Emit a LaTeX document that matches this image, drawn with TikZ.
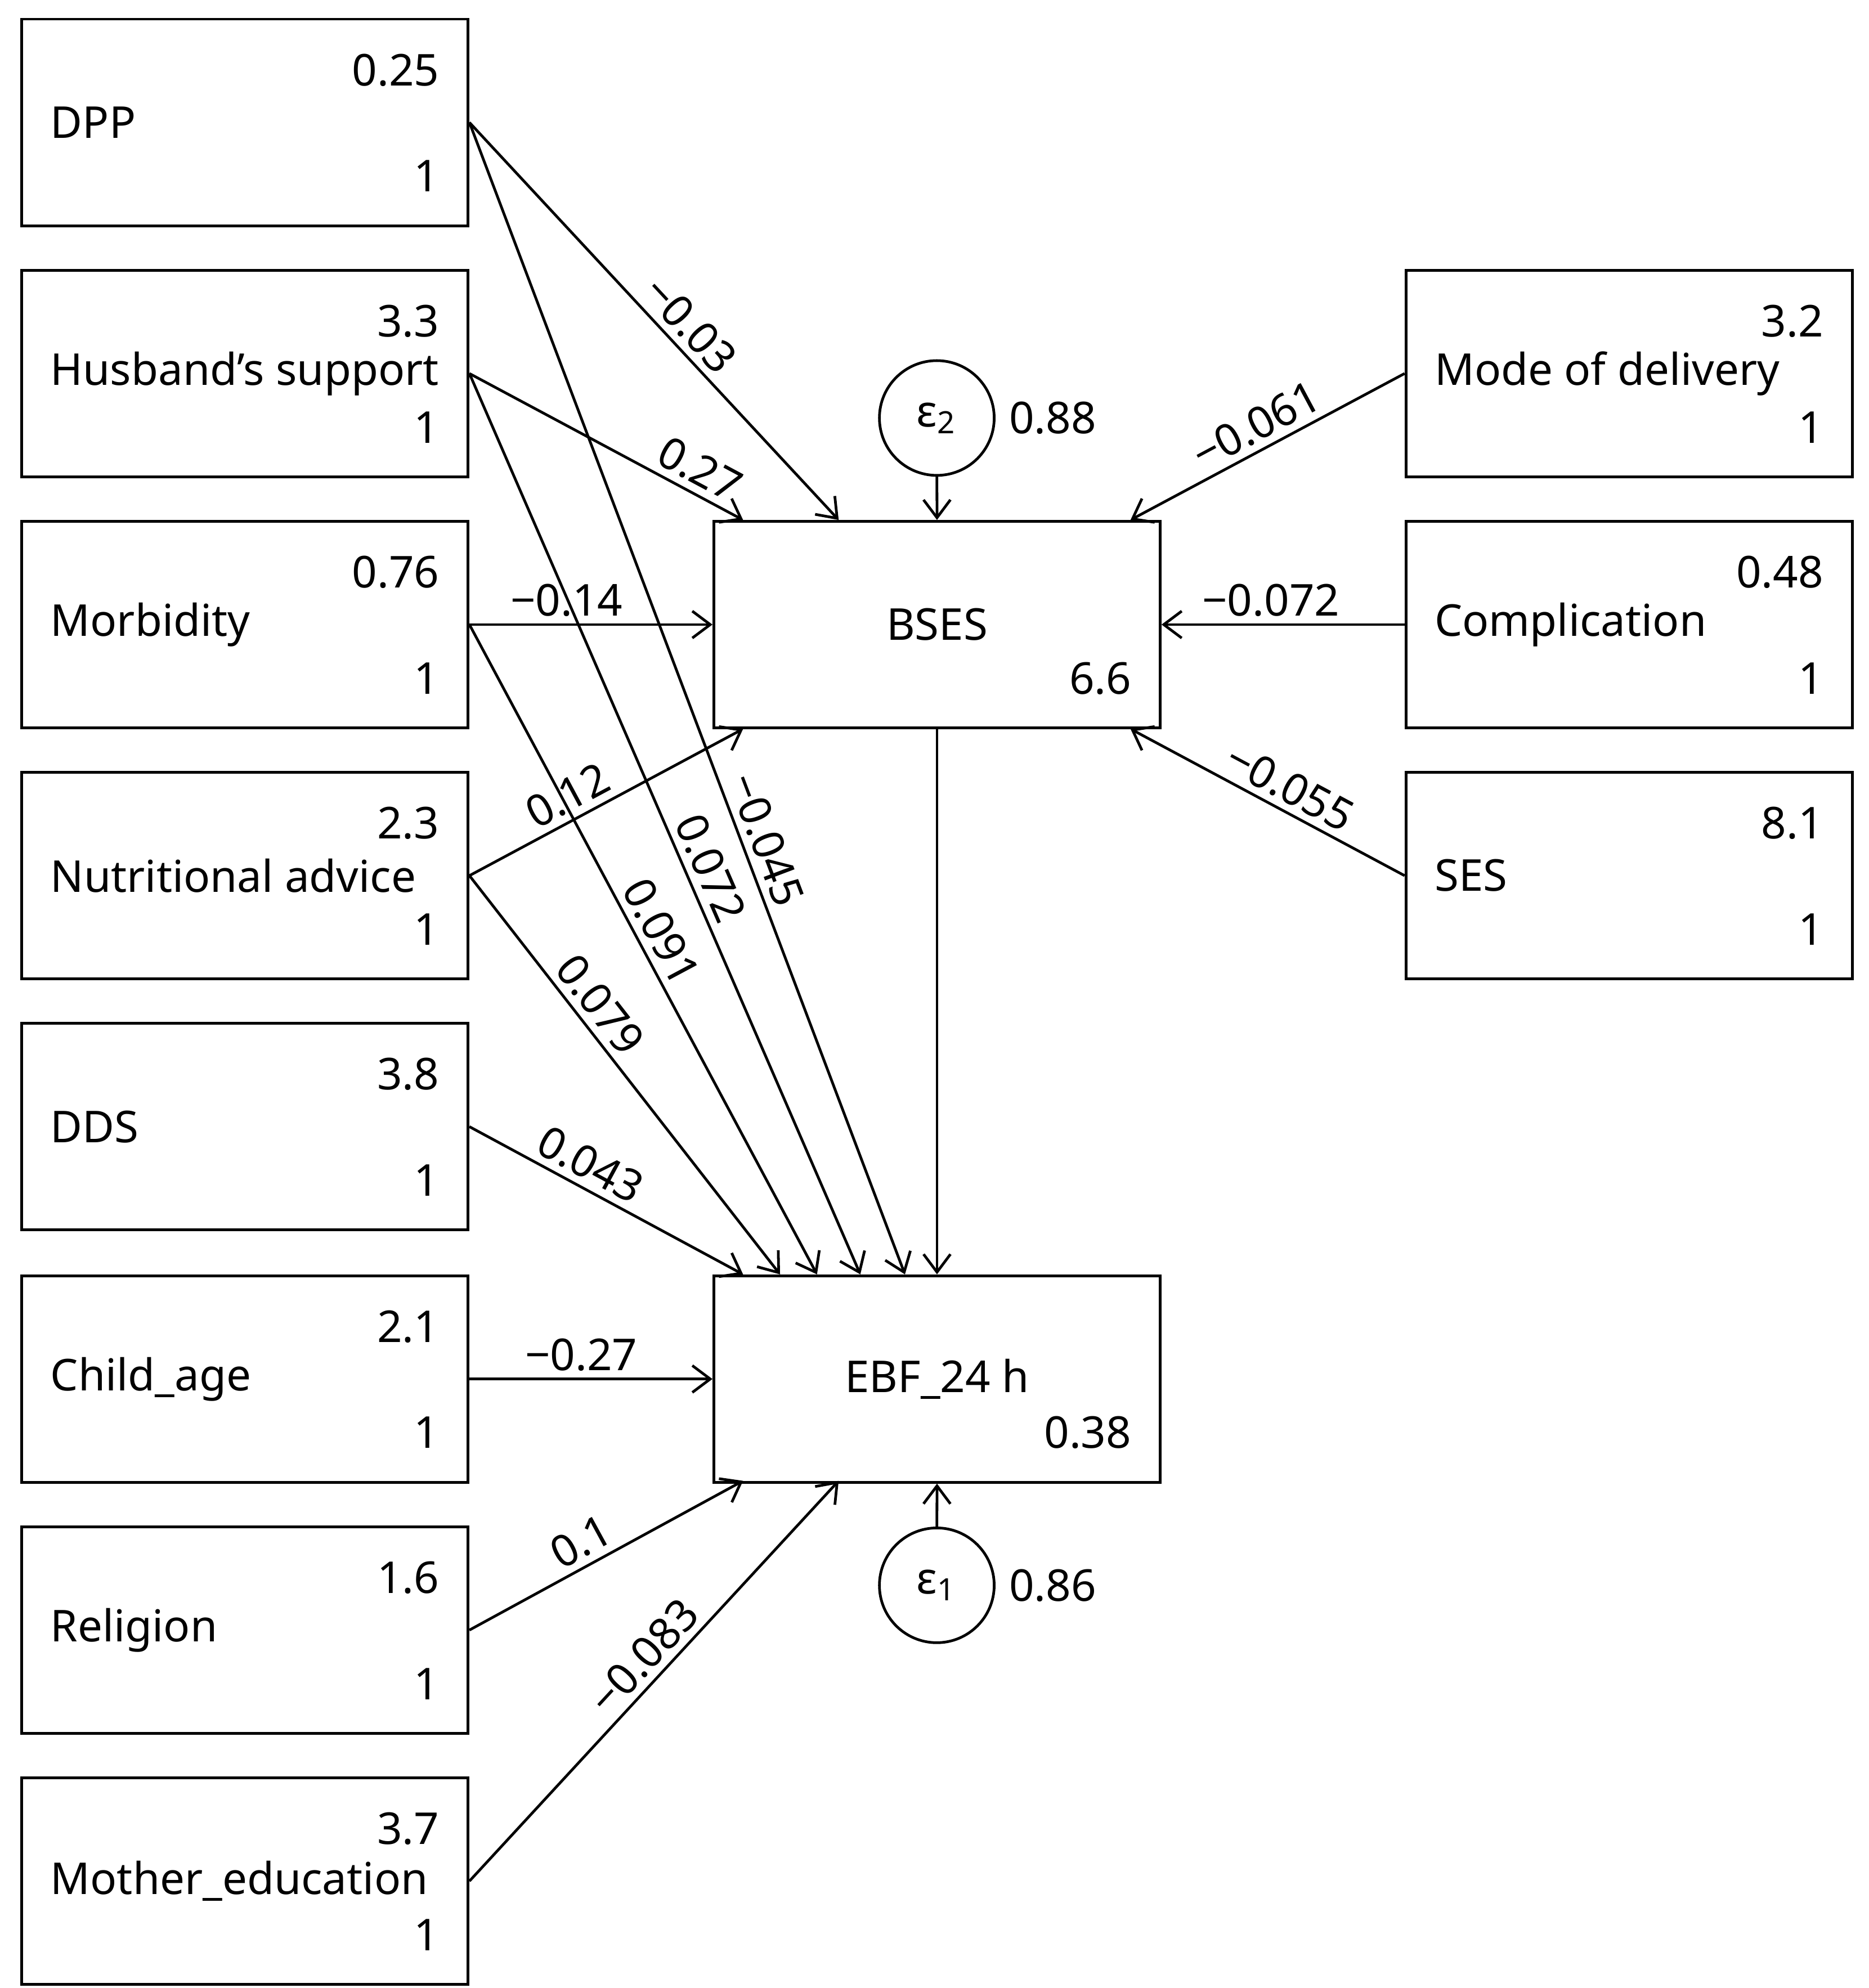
\documentclass[tikz,border=0pt]{standalone}
\usepackage{fontspec}
\setmainfont{Noto Sans}
\usetikzlibrary{arrows.meta}
\tikzset{
  box/.style={draw, line width=0.6pt, minimum width=3.50cm, minimum height=1.62cm, inner sep=0pt},
  txt/.style={inner sep=0pt},
  path/.style={line width=0.6pt, -{Straight Barb[length=4pt,width=6pt]}},
  coef/.style={sloped, above, inner sep=1.5pt},
  err/.style={draw, circle, line width=0.6pt, minimum size=0.90cm, inner sep=0pt}
}
% \mkbox{name}{left x}{top y}{label}{top number}
\newcommand{\mkbox}[5]{%
  \node[box, anchor=north west] (#1) at (#2,#3) {};
  \node[txt, anchor=west] (#1-t) at ([shift={(23,0)}]#1.west) {#4};
  \node[txt, anchor=east] (#1-m) at ([shift={(-23,41)}]#1.north east) {#5};
  \node[txt, anchor=east] (#1-o) at ([shift={(-23,-40)}]#1.south east) {1};
}
\begin{document}
\begin{tikzpicture}[x=0.01cm, y=-0.01cm, font=\fontsize{9.8}{11}\selectfont]
\useasboundingbox (0,0) rectangle (1466,1560);
% left column
\mkbox{dpp}{16}{14}{DPP}{0.25}
\mkbox{hus}{16}{211}{Husband’s support}{3.3}
\mkbox{mor}{16}{408}{Morbidity}{0.76}
\mkbox{nut}{16}{605}{Nutritional advice}{2.3}
\mkbox{dds}{16}{802}{DDS}{3.8}
\mkbox{chi}{16}{1000}{Child\_age}{2.1}
\mkbox{rel}{16}{1197}{Religion}{1.6}
\mkbox{mot}{16}{1394}{Mother\_education}{3.7}
% right column
\mkbox{mod}{1102}{211}{Mode of delivery}{3.2}
\mkbox{com}{1102}{408}{Complication}{0.48}
\mkbox{ses}{1102}{605}{SES}{8.1}
% endogenous
\node[box, anchor=north west] (bses) at (559,408) {};
\node[txt] (bses-t) at (bses.center) {BSES};
\node[txt, anchor=east] (bses-v) at ([shift={(-23,-40)}]bses.south east) {6.6};
\node[box, anchor=north west] (ebf) at (559,1000) {};
\node[txt] (ebf-t) at (ebf.center) {EBF\_24 h};
\node[txt, anchor=east] (ebf-v) at ([shift={(-23,-40)}]ebf.south east) {0.38};
% errors
\node[err] (e2) at (735,328) {ε\textsubscript{2}};
\node[txt, anchor=west] (e2v) at ([shift={(10,0)}]e2.east) {0.88};
\node[err] (e1) at (735,1244) {ε\textsubscript{1}};
\node[txt, anchor=west] (e1v) at ([shift={(10,0)}]e1.east) {0.86};
\coordinate (bt1) at (658,408);
\coordinate (bt2) at (583,408);
\coordinate (bb1) at (583,572);
\coordinate (bt3) at (887,408);
\coordinate (bb3) at (887,572);
\coordinate (et1) at (710,1000);
\coordinate (et2) at (675,1000);
\coordinate (et3) at (641,1000);
\coordinate (et4) at (612,1000);
\coordinate (et5) at (583,1000);
\coordinate (eb1) at (583,1162);
\coordinate (eb2) at (658,1162);
% paths
\draw[path] (dpp.east) -- node[coef, pos=.55] {−0.03} (bt1);
\draw[path] (dpp.east) -- node[coef, pos=.63] {−0.045} (et1);
\draw[path] (hus.east) -- node[coef, pos=.8] {0.27} (bt2);
\draw[path] (hus.east) -- node[coef, pos=.56] {0.072} (et2);
\draw[path] (mor.east) -- node[coef, pos=.4] {−0.14} (bses.west);
\draw[path] (mor.east) -- node[coef, pos=.49] {0.091} (et3);
\draw[path] (nut.east) -- node[coef, pos=.4] {0.12} (bb1);
\draw[path] (nut.east) -- node[coef, pos=.36] {0.079} (et4);
\draw[path] (dds.east) -- node[coef, pos=.4] {0.043} (et5);
\draw[path] (chi.east) -- node[coef, pos=.46] {−0.27} (ebf.west);
\draw[path] (rel.east) -- node[coef, pos=.45] {0.1} (eb1);
\draw[path] (mot.east) -- node[coef, pos=.52] {−0.083} (eb2);
\draw[path] (mod.west) -- node[coef, pos=.5] {−0.061} (bt3);
\draw[path] (com.west) -- node[coef, pos=.55] {−0.072} (bses.east);
\draw[path] (ses.west) -- node[coef, pos=.46] {−0.055} (bb3);
\draw[path] (bses.south) -- (ebf.north);
\draw[path] (e2) -- (bses.north);
\draw[path] (e1) -- (ebf.south);
\end{tikzpicture}
\end{document}
